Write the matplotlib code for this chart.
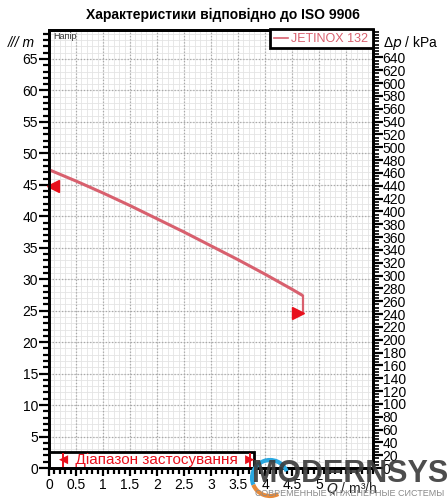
import matplotlib
matplotlib.use("Agg")
import matplotlib.pyplot as plt
import numpy as np
from matplotlib.ticker import MultipleLocator, FixedLocator
from matplotlib.patches import Rectangle, Arc

plt.rcParams['font.family'] = ['Liberation Sans', 'DejaVu Sans']

# data
flow_q = [0.0, 0.5, 1.0, 1.5, 2.0, 2.5, 3.0, 3.5, 4.0, 4.5, 4.7]
head_h = [47.4, 45.6, 43.7, 41.7, 39.6, 37.5, 35.3, 33.1, 30.8, 28.4, 27.4]
end_drop_h = [27.4, 24.6]
marker_left = (0.08, 44.8)
marker_right = (4.62, 24.6)
range_bounds = [0.26, 3.72]
x_ticks = [0, 0.5, 1, 1.5, 2, 2.5, 3, 3.5, 4, 4.5, 5]
x_ticklabels = ['0', '0.5', '1', '1.5', '2', '2.5', '3', '3.5', '4', '4.5', '5']
y_ticks = [0, 5, 10, 15, 20, 25, 30, 35, 40, 45, 50, 55, 60, 65]
kpa_ticks = list(range(0, 641, 20))
series_name = 'JETINOX 132'

curve_color = '#d8606e'
red = '#e8101c'

fig = plt.figure(figsize=(4.47, 5.0), dpi=100)
ax = fig.add_axes([49/447, 32/500, (373-49)/447, (468-30)/500])
ymax = 69.6
ax.set_xlim(0, 6)
ax.set_ylim(0, ymax)

# grid
ax.xaxis.set_major_locator(FixedLocator(x_ticks))
ax.xaxis.set_minor_locator(MultipleLocator(0.1))
ax.yaxis.set_major_locator(FixedLocator(y_ticks))
ax.yaxis.set_minor_locator(MultipleLocator(1))
for xv in np.arange(0.1, 6.0, 0.1):
    ax.axvline(xv, color='#e4e4e4', lw=0.6, zorder=0)
for yv in np.arange(1, 70, 1):
    ax.axhline(yv, color='#e4e4e4', lw=0.6, zorder=0)
for xv in np.arange(0.5, 6.0, 0.5):
    ax.axvline(xv, color='#a8a8a8', lw=0.9, ls=(0, (1, 1.5)), zorder=0.5)
for yv in np.arange(5, 70, 5):
    ax.axhline(yv, color='#a8a8a8', lw=0.9, ls=(0, (1, 1.5)), zorder=0.5)

ax.set_xticklabels(x_ticklabels)
ax.tick_params(axis='both', which='major', direction='out', length=7, width=1.6, labelsize=10, pad=1)
ax.tick_params(axis='both', which='minor', direction='out', length=4, width=1.6)
ax.tick_params(axis='x', which='major', length=6)
for s in ax.spines.values():
    s.set_linewidth(2)

# curve
ax.plot(flow_q, head_h, color=curve_color, lw=2.2, zorder=3, solid_capstyle='butt')
ax.plot([flow_q[-1], flow_q[-1]], end_drop_h, color=curve_color, lw=1.6, zorder=3)
ax.plot(*marker_left, marker='<', color=red, ms=8, zorder=4, clip_on=False)
ax.plot(*marker_right, marker='>', color=red, ms=8, zorder=4)

# right axis
k = 9.81
ax2 = ax.twinx()
ax2.set_ylim(0, ymax * k)
ax2.yaxis.set_major_locator(FixedLocator(kpa_ticks))
ax2.yaxis.set_minor_locator(MultipleLocator(5))
ax2.tick_params(axis='y', which='major', direction='out', length=7, width=1.6, labelsize=10, pad=0)
ax2.tick_params(axis='y', which='minor', direction='out', length=4, width=1.2)
for s in ax2.spines.values():
    s.set_linewidth(2)

# legend box (drawn on the top axes, in its own kPa coordinates)
leg_x0 = 4.1
ax2.add_patch(Rectangle((leg_x0, (ymax - 2.9) * k), 6 - leg_x0, 3.1 * k, facecolor='white',
                        edgecolor='black', lw=2, zorder=5, clip_on=False))
ax2.plot([4.17, 4.42], [(ymax - 1.35) * k] * 2, color=curve_color, lw=1.2, zorder=6, clip_on=False)
ax2.text(4.48, (ymax - 1.4) * k, series_name, color=curve_color, fontsize=9, va='center',
         ha='left', zorder=6)

# range box
ax.add_patch(Rectangle((0, 0), 3.8, 2.6, facecolor='white', edgecolor='black', lw=2, zorder=5))
for xb in range_bounds:
    ax.plot([xb, xb], [0.2, 2.2], color=red, lw=1.4, zorder=6)
ax.text(1.99, 1.25, '◄ Діапазон застосування ►', color=red, fontsize=11,
        ha='center', va='center', zorder=6, family=['Liberation Sans', 'DejaVu Sans'])

ax.text(0.08, ymax - 0.3, 'Напір', fontsize=6.5, color='#333333', va='top', ha='left')

fig.text(223/447, 1 - 15/500, 'Характеристики відповідно до ISO 9906', fontsize=10,
         fontweight='bold', ha='center', va='center')
fig.text(21/447, 1 - 43/500, '/// m', fontsize=10, style='italic', ha='center', va='center')
fig.text(411/447, 1 - 43/500, 'Δ$p$ / kPa', fontsize=10, ha='center', va='center')
fig.text(352/447, 1 - 488/500, '$Q$ / m³/h', fontsize=10, ha='center', va='center', color='#222222')

# watermark logo
fig.text(350/447, 1 - 474/500, 'MODERNSYS', fontsize=22, fontweight='bold', color='#3a3a3a',
         ha='center', va='center', alpha=0.9)
fig.text(350/447, 1 - 493/500, 'СОВРЕМЕННЫЕ ИНЖЕНЕРНЫЕ СИСТЕМЫ', fontsize=6.5, color='#8a8a8a',
         ha='center', va='center')
cx, cy = 270/447, 1 - 478/500
fig.add_artist(Arc((cx, cy), 36/447, 36/500, theta1=20, theta2=200, color='#2aa8e0', lw=3,
                   transform=fig.transFigure))
fig.add_artist(Arc((cx, cy), 36/447, 36/500, theta1=200, theta2=300, color='#e88a3a', lw=3,
                   transform=fig.transFigure))

fig.savefig('out.png', dpi=100)
